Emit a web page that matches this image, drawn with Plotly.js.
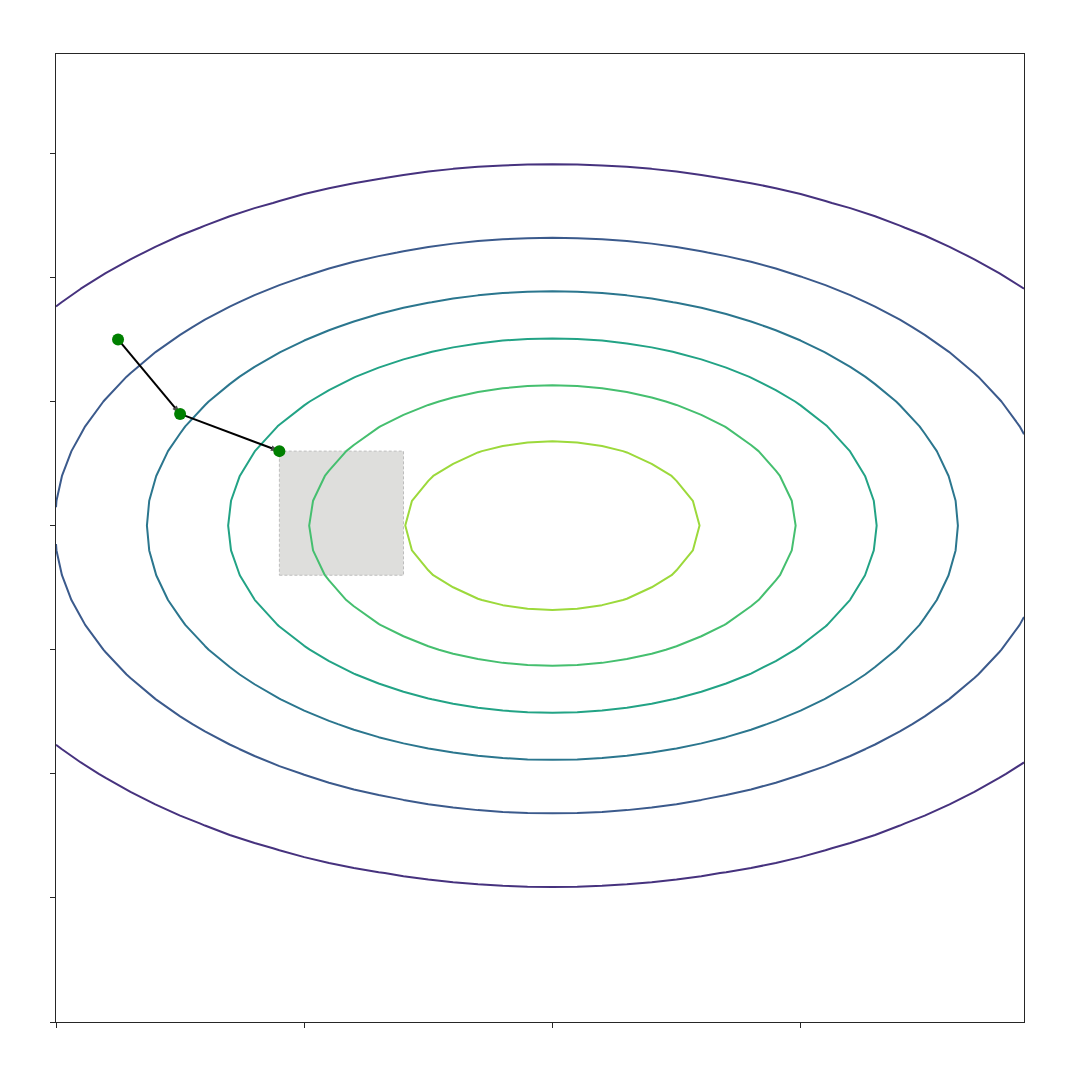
<!DOCTYPE html>
<html>
<head>
<meta charset="utf-8">
<script src="https://cdn.plot.ly/plotly-3.0.1.min.js"></script>
<style>html,body{margin:0;padding:0;background:#fff;}#chart{width:1080px;height:1080px;}</style>
</head>
<body>
<div id="chart"></div>
<script>
// Grid of the surface (step 0.1, as in the reference's polygonal contours)
const gridX = Array.from({length: 40}, (_, i) => +(-2 + i * 0.1).toFixed(2));
const gridY = Array.from({length: 40}, (_, i) => +(-2 + i * 0.1).toFixed(2));
// Surface: elongated Gaussian bump centred at (0, 0)
const surfaceZ = gridY.map(y => gridX.map(x => Math.exp(-0.898 * (x * x / 3 + y * y))));

// Contour levels and their colours
const levelStart = 0.15, levelEnd = 0.9, levelStep = 0.15;
const levelColors = ['#46327e', '#3b5a8c', '#2b768e', '#22a385', '#45bf6f', '#9cd93b'];

// Descent path points
const pathX = [-1.75, -1.5, -1.1];
const pathY = [0.75, 0.45, 0.3];

// Highlighted box
const boxX = [-1.1, -0.6];
const boxY = [-0.2, 0.3];

// Tick positions (labels hidden)
const xTicks = [-2, -1, 0, 1];
const yTicks = [-2, -1.5, -1, -0.5, 0, 0.5, 1, 1.5];

const colorscale = levelColors.map((c, i) => [i / (levelColors.length - 1), c]);

const traces = [
  {
    type: 'contour',
    x: gridX, y: gridY, z: surfaceZ,
    autocontour: false,
    contours: {start: levelStart, end: levelEnd, size: levelStep, coloring: 'lines'},
    colorscale: colorscale,
    zmin: levelStart, zmax: levelEnd,
    line: {width: 2, smoothing: 0},
    showscale: false,
    hoverinfo: 'skip'
  },
  {
    // arrows between consecutive path points (heads mostly hidden under the dots)
    type: 'scatter', mode: 'lines+markers',
    x: pathX, y: pathY,
    line: {color: '#000000', width: 2},
    marker: {
      symbol: pathX.map((_, i) => i === 0 ? 'circle' : 'arrow'),
      size: pathX.map((_, i) => i === 0 ? 0 : 9),
      angleref: 'previous', color: '#000000', line: {width: 0}
    },
    hoverinfo: 'skip'
  },
  {
    type: 'scatter', mode: 'markers',
    x: pathX, y: pathY,
    marker: {color: '#008000', size: 12},
    hoverinfo: 'skip'
  }
];

const axisCommon = {
  showgrid: false, zeroline: false, showline: true, mirror: true,
  linecolor: '#262626', linewidth: 1.2,
  ticks: 'outside', ticklen: 5, tickwidth: 1, tickcolor: '#262626',
  showticklabels: false, tickmode: 'array'
};

const layout = {
  width: 1080, height: 1080,
  margin: {l: 56, r: 56, t: 54, b: 58},
  paper_bgcolor: '#ffffff', plot_bgcolor: '#ffffff',
  showlegend: false,
  xaxis: Object.assign({}, axisCommon, {range: [-2, 1.9], tickvals: xTicks}),
  yaxis: Object.assign({}, axisCommon, {range: [-2, 1.9], tickvals: yTicks}),
  shapes: [{
    type: 'rect', xref: 'x', yref: 'y',
    x0: boxX[0], x1: boxX[1], y0: boxY[0], y1: boxY[1],
    fillcolor: '#dededc', line: {color: '#bdbdbd', width: 1, dash: '3px,2px'},
    layer: 'below'
  }]
};

Plotly.newPlot('chart', traces, layout, {staticPlot: true, displayModeBar: false});
</script>
</body>
</html>
